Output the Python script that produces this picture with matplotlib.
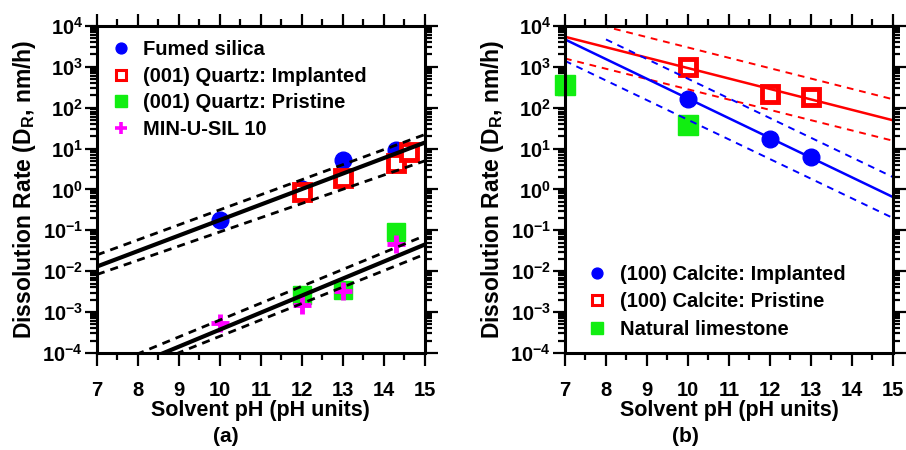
import matplotlib
matplotlib.use('Agg')
import matplotlib.pyplot as plt
import numpy as np
from matplotlib.ticker import LogLocator, MultipleLocator, NullFormatter

plt.rcParams['font.family'] = ['Liberation Sans', 'DejaVu Sans']
plt.rcParams['font.weight'] = 'bold'
plt.rcParams['axes.labelweight'] = 'bold'

# ---- panel (a): silica / quartz ----
ph_fumed = [10, 12, 13, 14.3]
dr_fumed = [0.18, 1.05, 5.2, 9.1]
ph_qimp = [12, 13, 14.3, 14.6]
dr_qimp = [0.87, 1.9, 4.4, 8.3]
ph_qpri = [12, 13, 14.3]
dr_qpri = [0.0026, 0.0035, 0.093]
ph_minu = [10, 12, 13, 14.3]
dr_minu = [0.00054, 0.0015, 0.0032, 0.045]

# fit lines (value at pH 7 and pH 15)
fit_ph = [7, 15]
fit_hi = [0.013, 14]
fit_hi_up = [0.025, 22]
fit_hi_lo = [0.0083, 5.0]
fit_lo = [2.1e-5, 0.045]
fit_lo_up = [3.7e-5, 0.074]
fit_lo_lo = [1.6e-5, 0.026]

# ---- panel (b): calcite ----
ph_cimp = [10, 12, 13]
dr_cimp = [160, 16.7, 6.3]
ph_cpri = [10, 12, 13]
dr_cpri = [1000, 214, 183]
ph_lime = [7, 10]
dr_lime = [355, 37]

red_fit = [5400, 49]
red_up = [17000, 160]
red_lo = [1590, 15.5]
blue_fit = [4650, 0.65]
blue_up_ph = [8, 15]
blue_up = [4650, 2.0]
blue_lo = [1390, 0.2]

BLUE = '#0000ff'
RED = '#ff0000'
GREEN = '#11ee11'
MAG = '#ff00ff'

fig = plt.figure(figsize=(9.06, 4.5), dpi=100)
ax1 = fig.add_axes([0.107, 0.2156, 0.362, 0.727])
ax2 = fig.add_axes([0.6236, 0.2156, 0.362, 0.727])


def style(ax):
    ax.set_yscale('log')
    ax.set_xlim(7, 15)
    ax.set_ylim(1e-4, 1e4)
    ax.xaxis.set_major_locator(MultipleLocator(1))
    ax.xaxis.set_minor_locator(MultipleLocator(0.5))
    ax.yaxis.set_major_locator(LogLocator(base=10, numticks=20))
    ax.yaxis.set_minor_locator(LogLocator(base=10, subs=np.arange(2, 10), numticks=20))
    ax.yaxis.set_minor_formatter(NullFormatter())
    for s in ax.spines.values():
        s.set_linewidth(2.2)
    ax.tick_params(which='both', direction='out', top=True, right=True, width=1.6)
    ax.tick_params(which='major', length=9, labelsize=14.5)
    ax.tick_params(which='minor', length=5)
    ax.tick_params(axis='x', which='major', pad=11)
    ax.tick_params(axis='y', which='major', pad=1)
    ax.set_xlabel('Solvent pH (pH units)', fontsize=15.5, labelpad=0)
    ax.set_ylabel(r'Dissolution Rate (D$_\mathdefault{R}$, nm/h)', fontsize=16.5, labelpad=3)


def shrink_handles(leg):
    for h in leg.legend_handles:
        h.set_markeredgewidth(2.2 if h.get_markerfacecolor() == 'white' else 1.0)


style(ax1)
style(ax2)

ax1.plot(ph_fumed, dr_fumed, 'o', color=BLUE, ms=12, label='Fumed silica')
ax1.plot(ph_qimp, dr_qimp, 's', mfc='white', mec=RED, mew=3.5, ms=12,
         label='(001) Quartz: Implanted')
ax1.plot(ph_qpri, dr_qpri, 's', color=GREEN, ms=13, label='(001) Quartz: Pristine')
ax1.plot(ph_minu, dr_minu, '+', color=MAG, ms=13, mew=3.5, label='MIN-U-SIL 10')

dash = (0, (2.9, 2.2))
for mid, up, lo in [(fit_hi, fit_hi_up, fit_hi_lo), (fit_lo, fit_lo_up, fit_lo_lo)]:
    ax1.plot(fit_ph, mid, '-', color='black', lw=3)
    ax1.plot(fit_ph, up, color='black', lw=2, ls=dash)
    ax1.plot(fit_ph, lo, color='black', lw=2, ls=dash)

leg1 = ax1.legend(loc='upper left', bbox_to_anchor=(0.0, 1.0), frameon=False, fontsize=14.5,
                  markerscale=0.65, handlelength=1.0, handletextpad=0.6, labelspacing=0.38,
                  borderaxespad=0.3)
shrink_handles(leg1)
leg1.legend_handles[3].set_markeredgewidth(2.6)

ax2.plot(ph_cimp, dr_cimp, 'o', color=BLUE, ms=12, label='(100) Calcite: Implanted')
ax2.plot(ph_cpri, dr_cpri, 's', mfc='white', mec=RED, mew=3.5, ms=12,
         label='(100) Calcite: Pristine')
ax2.plot(ph_lime, dr_lime, 's', color=GREEN, ms=14, label='Natural limestone', clip_on=False)

cdash = (0, (3.5, 3))
ax2.plot(fit_ph, red_fit, '-', color=RED, lw=1.8)
ax2.plot(fit_ph, red_up, color=RED, lw=1.4, ls=cdash)
ax2.plot(fit_ph, red_lo, color=RED, lw=1.4, ls=cdash)
ax2.plot(fit_ph, blue_fit, '-', color=BLUE, lw=1.8)
ax2.plot(blue_up_ph, blue_up, color=BLUE, lw=1.4, ls=cdash)
ax2.plot(fit_ph, blue_lo, color=BLUE, lw=1.4, ls=cdash)

leg2 = ax2.legend(loc='lower left', bbox_to_anchor=(0.025, 0.0), frameon=False, fontsize=14.5,
                  markerscale=0.65, handlelength=1.0, handletextpad=0.6, labelspacing=0.42,
                  borderaxespad=0.3)
shrink_handles(leg2)

fig.text(0.249, 0.03, '(a)', fontsize=15, ha='center', va='center')
fig.text(0.757, 0.03, '(b)', fontsize=15, ha='center', va='center')

fig.savefig('out.png', dpi=100)
